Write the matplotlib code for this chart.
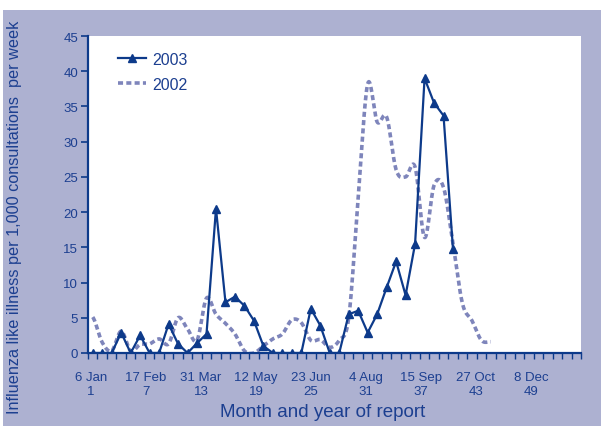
import numpy as np
import matplotlib
matplotlib.use('Agg')
import matplotlib.pyplot as plt
from matplotlib.patches import Rectangle
from matplotlib import rcParams
rcParams['font.family'] = ['Liberation Sans', 'DejaVu Sans']

# weekly rates, week 1 = first week of the year
weeks_2003 = np.arange(1, 40)
rate_2003 = [0, 0, 0, 2.9, 0, 2.5, 0, 0, 4.1, 1.3,
             0, 1.4, 2.7, 20.5, 7.2, 8.0, 6.7, 4.6, 1.0, 0,
             0, 0, 0, 6.3, 3.9, 0, 0, 5.5, 6.0, 2.9,
             5.5, 9.3, 13.0, 8.2, 15.5, 39.0, 35.5, 33.7, 14.7]

weeks_2002 = np.arange(1, 44)
rate_2002 = [5.1, 1.5, 0.3, 3.1, 0.3, 1.2, 1.3, 2.0, 1.3, 5.0,
             3.4, 1.8, 7.8, 5.5, 4.2, 2.7, 0.3, 0.0, 1.0, 2.0,
             2.7, 4.7, 4.3, 1.8, 1.9, 0.8, 1.8, 5.0, 22.0, 38.2,
             32.8, 33.5, 26.0, 25.0, 26.4, 16.4, 23.8, 23.5, 15.5, 7.0,
             4.6, 1.8, 1.6]

tick_text = ['6 Jan\n1', '17 Feb\n7', '31 Mar\n13', '12 May\n19', '23 Jun\n25',
             '4 Aug\n31', '15 Sep\n37', '27 Oct\n43', '8 Dec\n49']

navy = '#0d3a8a'
txt = '#1c3f90'
lav = '#adb1d1'
dot_col = '#7e85bb'


def smooth(x, y, n=16):
	# excel style smoothed line (catmull-rom)
	y = np.asarray(y, float)
	yp = np.concatenate([[y[0]], y, [y[-1]]])
	xs, ys = [], []
	for i in range(len(y) - 1):
		p0, p1, p2, p3 = yp[i], yp[i+1], yp[i+2], yp[i+3]
		t = np.linspace(0, 1, n, endpoint=False)
		ys.append(0.5*(2*p1 + (-p0+p2)*t + (2*p0-5*p1+4*p2-p3)*t**2 + (-p0+3*p1-3*p2+p3)*t**3))
		xs.append(x[i] + (x[i+1]-x[i])*t)
	xs.append([x[-1]]); ys.append([y[-1]])
	return np.concatenate(xs), np.concatenate(ys)


fig = plt.figure(figsize=(6.01, 4.27), dpi=100)
bg = Rectangle((0.005, 0), 0.995, 416/427, transform=fig.transFigure,
               facecolor=lav, edgecolor='none', zorder=-10)
fig.add_artist(bg)
ax = fig.add_axes([88/601, 73/427, 493/601, 317/427])
ax.set_facecolor('white')

sx, sy = smooth(weeks_2002, rate_2002)
ax.plot(sx, sy, color=dot_col, linewidth=2.6, linestyle=(0, (1.4, 0.9)),
        dash_capstyle='butt', label='2002', zorder=2)
ax.plot(weeks_2003, rate_2003, color=navy, linewidth=1.6, marker='^',
        markersize=6, label='2003', zorder=3)

ax.set_xlim(0.5, 52.5)
ax.set_ylim(0, 45)
ax.set_yticks(range(0, 46, 5))
ax.set_xticks(0.82 + 5.8*np.arange(len(tick_text)))
ax.set_xticklabels(tick_text, linespacing=1.25)
ax.set_xticks(np.arange(0.5, 53, 1), minor=True)
ax.tick_params(axis='x', which='major', length=0, pad=13, labelsize=9.5, labelcolor=txt)
ax.tick_params(axis='x', which='minor', length=4, width=1, color=navy, direction='out')
ax.tick_params(axis='y', length=5, width=1.2, color=navy, pad=2, labelsize=9.5, labelcolor=txt)
for s in ['top', 'right']:
	ax.spines[s].set_visible(False)
for s in ['left', 'bottom']:
	ax.spines[s].set_color(navy)
	ax.spines[s].set_linewidth(1.6)

h, l = ax.get_legend_handles_labels()
leg = ax.legend(h[::-1], l[::-1], loc='upper left', bbox_to_anchor=(0.061, 0.951),
                frameon=False, fontsize=11.5, handlelength=1.75, handletextpad=0.4,
                labelspacing=0.65, borderpad=0, borderaxespad=0)
for t in leg.get_texts():
	t.set_color(txt)

fig.text(15/601, 0.49, 'Influenza like illness per 1,000 consultations  per week',
         rotation=90, ha='center', va='center', fontsize=11.7, color=txt)
fig.text(323/601, 1 - 413/427, 'Month and year of report', ha='center', va='center',
         fontsize=13.5, color=txt)

fig.savefig('out.png', dpi=100)
